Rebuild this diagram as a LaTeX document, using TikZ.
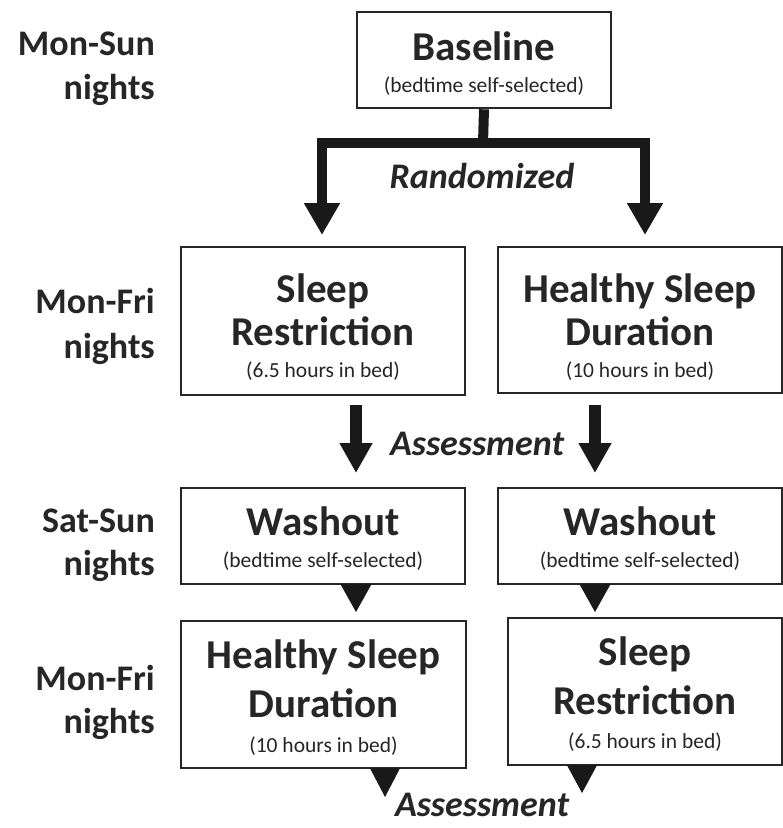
\documentclass[tikz,border=0pt]{standalone}
\usepackage{fontspec}
\setmainfont{Carlito}
\usetikzlibrary{arrows.meta,calc}
\begin{document}
\begin{tikzpicture}[x=1pt,y=-1pt,
  box/.style={draw=black!85, line width=2.6pt, inner sep=0pt},
  big/.style={font=\fontsize{41}{43}\selectfont\bfseries, anchor=base, inner sep=0pt, text=black!85},
  small/.style={font=\fontsize{21.5}{24}\selectfont, anchor=base, inner sep=0pt, text=black!85},
  lbl/.style={font=\fontsize{36}{40}\selectfont\bfseries, anchor=base east, inner sep=0pt, text=black!85},
  ital/.style={font=\fontsize{36}{40}\selectfont\bfseries\itshape, anchor=base, inner sep=0pt, text=black!85},
  fork/.style={draw=black!90, line width=10pt},
  bigarrow/.style={draw=black!90, line width=12pt, -{Triangle[width=31pt,length=30pt]}},
  tri/.style={draw=black!90, line width=1pt, -{Triangle[width=31pt,length=28pt]}}]
\useasboundingbox[fill=white] (0,0) rectangle (783,828);

% boxes
\node[box, minimum width=254pt, minimum height=96pt] (base) at (484,60) {};
\node[box, minimum width=284pt, minimum height=148pt] (sr1) at (323,321) {};
\node[box, minimum width=284pt, minimum height=146pt] (hsd1) at (640,320) {};
\node[box, minimum width=284pt, minimum height=96pt] (wo1) at (323,536) {};
\node[box, minimum width=284pt, minimum height=96pt] (wo2) at (640,536) {};
\node[box, minimum width=285pt, minimum height=147pt] (hsd2) at (323.5,694.5) {};
\node[box, minimum width=274pt, minimum height=147pt] (sr2) at (645,691.5) {};

% box texts
\node[big] (tb1) at (484,60) {Baseline};
\node[small] (tb2) at (484,92) {(bedtime self-selected)};
\node[big] (ts1) at (323,302) {Sleep};
\node[big] (ts2) at (323,345) {Restriction};
\node[small] (ts3) at (323,377) {(6.5 hours in bed)};
\node[big] (th1) at (640,302) {Healthy Sleep};
\node[big] (th2) at (640,345) {Duration};
\node[small] (th3) at (640,377) {(10 hours in bed)};
\node[big] (tw1) at (323,535) {Washout};
\node[small] (tw2) at (323,567) {(bedtime self-selected)};
\node[big] (tx1) at (640,535) {Washout};
\node[small] (tx2) at (640,567) {(bedtime self-selected)};
\node[big] (tk1) at (323.5,668) {Healthy Sleep};
\node[big] (tk2) at (323.5,717) {Duration};
\node[small] (tk3) at (323.5,752) {(10 hours in bed)};
\node[big] (tr1) at (645,665) {Sleep};
\node[big] (tr2) at (645,714) {Restriction};
\node[small] (tr3) at (645,748) {(6.5 hours in bed)};

% left labels
\node[lbl] (l1a) at (155,55) {Mon-Sun};
\node[lbl] (l1b) at (155,99) {nights};
\node[lbl] (l2a) at (155,313) {Mon-Fri};
\node[lbl] (l2b) at (155,358) {nights};
\node[lbl] (l3a) at (155,532) {Sat-Sun};
\node[lbl] (l3b) at (155,575) {nights};
\node[lbl] (l4a) at (155,690) {Mon-Fri};
\node[lbl] (l4b) at (155,733) {nights};

% italic labels
\node[ital] (rand) at (482,188) {Randomized};
\node[ital] (ass1) at (477,455) {Assessment};
\node[ital] (ass2) at (482,816) {Assessment};

% fork
\coordinate (split) at (483,143);
\coordinate (fl) at (322,235);
\coordinate (fr) at (645,235);
\draw[fork] (base.south) -- (split);
\draw[fork, -{Triangle[width=34pt,length=32pt]}] (split) -| (fl);
\draw[fork, -{Triangle[width=34pt,length=32pt]}] (split) -| (fr);

% assessment arrows
\draw[bigarrow] (356,405) -- (356,473);
\draw[bigarrow] (595,405) -- (595,473);

% washout to next
\draw[tri] (wo1.south -| 356,0) -- (356,612);
\draw[tri] (wo2.south -| 595,0) -- (595,612);

% bottom triangles
\draw[tri, -{Triangle[width=30pt,length=29pt]}] (hsd2.south -| 385,0) -- (385,797);
\draw[tri, -{Triangle[width=30pt,length=28pt]}] (sr2.south -| 582,0) -- (582,793);
\end{tikzpicture}
\end{document}
